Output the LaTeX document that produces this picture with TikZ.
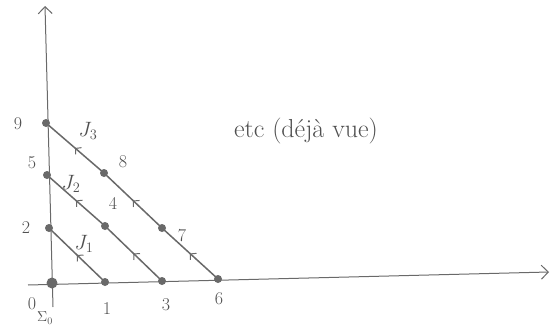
\documentclass[tikz,border=0pt]{standalone}
\usetikzlibrary{arrows.meta,decorations.markings}
\definecolor{pencil}{RGB}{105,105,105}
\definecolor{pencildark}{RGB}{80,80,80}
\begin{document}
\begin{tikzpicture}[x=1pt,y=-1pt,
  axisline/.style={draw=pencil, line width=1pt},
  diag/.style={draw=pencil, line width=1.5pt},
  dotnode/.style={circle, fill=pencil, inner sep=0pt, minimum size=8pt},
  bigdot/.style={circle, fill=pencil, inner sep=0pt, minimum size=11pt},
  lbl/.style={text=pencildark, font=\fontsize{18}{20}\selectfont, inner sep=0pt},
  jlbl/.style={text=pencildark, font=\fontsize{21}{24}\selectfont, inner sep=0pt},
  midarrow/.style={postaction={decorate}, decoration={markings, mark=at position 0.5 with {\arrow[pencil, line width=1pt]{Straight Barb[length=4pt,width=9pt]}}}}
]
\useasboundingbox (0,0) rectangle (557,327);
\fill[white] (0,0) rectangle (557,327);
% axes
\coordinate (xs) at (28,285);
\coordinate (xe) at (549,272);
\coordinate (ys) at (53,307);
\coordinate (ye) at (45,6);
\draw[axisline,-{Straight Barb[length=7pt,width=14pt]}] (xs) -- (xe);
\draw[axisline,-{Straight Barb[length=7pt,width=14pt]}] (ys) -- (ye);
% points
\coordinate (p0) at (52,283);
\coordinate (p1) at (105,282);
\coordinate (p2) at (49,228);
\coordinate (p3) at (162,281);
\coordinate (p4) at (105,226);
\coordinate (p5) at (47,175);
\coordinate (p6) at (218,279);
\coordinate (p7) at (162,228);
\coordinate (p8) at (104,173);
\coordinate (p9) at (46,123);
% diagonals
\draw[diag,midarrow] (p1) -- (p2);
\draw[diag,midarrow] (p3) -- (p4);
\draw[diag,midarrow] (p4) -- (p5);
\draw[diag,midarrow] (p6) -- (p7);
\draw[diag,midarrow] (p7) -- (p8);
\draw[diag,midarrow] (p8) -- (p9);
% dots
\node[bigdot] (d0) at (p0) {};
\foreach \i in {1,...,9} { \node[dotnode] (d\i) at (p\i) {}; }
% labels
\node[lbl] (l0) at (32,304) {0};
\node[lbl] (l1) at (107,309) {1};
\node[lbl] (l3) at (166,305) {3};
\node[lbl] (l6) at (219,299) {6};
\node[lbl] (l2) at (26,228) {2};
\node[lbl] (l5) at (32,163) {5};
\node[lbl] (l9) at (18,124) {9};
\node[lbl] (l4) at (113,203) {4};
\node[lbl] (l8) at (123,162) {8};
\node[lbl] (l7) at (182,236) {7};
\node[jlbl] (j1) at (84,244) {$J_1$};
\node[jlbl] (j2) at (71,184) {$J_2$};
\node[jlbl] (j3) at (88,131) {$J_3$};
\node[lbl, font=\fontsize{14}{16}\selectfont] (e0) at (45,318) {$\Sigma_0$};
\node[lbl, font=\fontsize{26}{30}\selectfont] (etc) at (306,131) {etc (déjà vue)};
\end{tikzpicture}
\end{document}
